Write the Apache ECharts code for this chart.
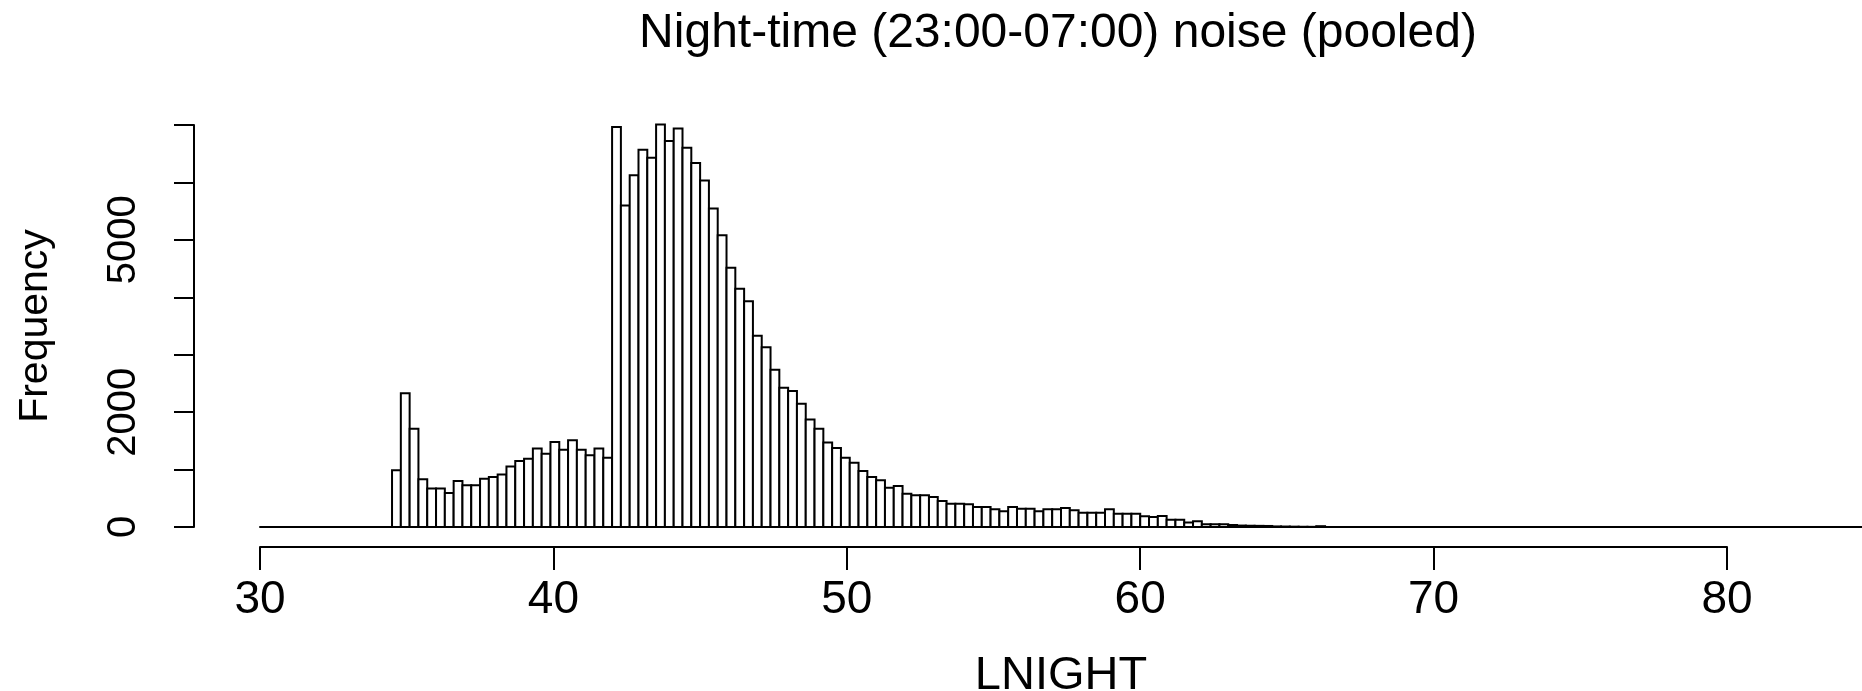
<!DOCTYPE html>
<html>
<head>
<meta charset="utf-8">
<title>Night-time noise histogram</title>
<script src="https://cdn.jsdelivr.net/npm/echarts@6/dist/echarts.min.js"></script>
<style>
  html, body { margin: 0; padding: 0; background: #fff; }
  #main { width: 1862px; height: 691px; }
</style>
</head>
<body>
<div id="main"></div>
<script>
// histogram bins: width 0.3 starting at 34.5 (LNIGHT, dB)
var binStart = 34.5;
var binWidth = 0.3;
var counts = [
  990, 2330, 1710, 830, 670, 670, 590, 800, 725, 725,
  840, 870, 915, 1055, 1150, 1190, 1365, 1275, 1480, 1345,
  1510, 1345, 1250, 1365, 1205, 6965, 5600, 6125, 6570, 6430,
  7010, 6720, 6940, 6605, 6340, 6035, 5545, 5080, 4515, 4150,
  3930, 3330, 3130, 2740, 2425, 2370, 2145, 1870, 1710, 1470,
  1375, 1205, 1120, 975, 870, 813, 685, 712, 580, 551,
  551, 522, 453, 406, 406, 395, 348, 348, 308, 273,
  348, 319, 319, 273, 308, 308, 331, 290, 250, 250,
  250, 308, 232, 232, 232, 186, 174, 192, 128, 128,
  80, 100, 50, 48, 46, 35, 25, 22, 20, 18,
  10, 8, 6, 4, 3, 14
];
// R drops the overlapping labels, only these survive
var yTickLabels = [0, 2000, 5000];
var xTicks = [30, 40, 50, 60, 70, 80];

var fontFam = '"Liberation Sans", Arial, sans-serif';

var histData = counts.map(function (n, i) {
  var x0 = +(binStart + i * binWidth).toFixed(2);
  return [x0, +(x0 + binWidth).toFixed(2), n];
});

var chart = echarts.init(document.getElementById('main'));

var option = {
  animation: false,
  backgroundColor: '#fff',
  title: {
    text: 'Night-time (23:00-07:00) noise (pooled)',
    left: 1053,
    top: 5,
    textAlign: 'center',
    textStyle: { fontFamily: fontFam, fontSize: 48, fontWeight: 'normal', color: '#000' }
  },
  grid: [
    // bars, zero line runs out to the right edge
    { left: 260, right: 0, top: 125, bottom: 164, containLabel: false, outerBoundsMode: 'none' },
    // the R x axis, 30..80 only
    { left: 260, width: 1467, top: 125, bottom: 164, containLabel: false, outerBoundsMode: 'none' }
  ],
  xAxis: [
    {
      type: 'value', gridIndex: 0,
      min: 30, max: 84.6,
      axisLine: { show: true, lineStyle: { color: '#000', width: 2 } },
      axisTick: { show: false },
      axisLabel: { show: false },
      splitLine: { show: false },
      // xlab sits in the middle of the whole plot region
      name: 'LNIGHT',
      nameLocation: 'middle',
      nameGap: 126,
      nameTextStyle: { fontFamily: fontFam, fontSize: 47, color: '#000' }
    },
    {
      type: 'value', gridIndex: 1,
      min: xTicks[0], max: xTicks[xTicks.length - 1], interval: 10,
      offset: 20,
      axisLine: { show: true, onZero: false, lineStyle: { color: '#000', width: 2 } },
      axisTick: { show: true, length: 23, lineStyle: { color: '#000', width: 2 } },
      axisLabel: { margin: 30, fontFamily: fontFam, fontSize: 46, color: '#000' },
      splitLine: { show: false }
    }
  ],
  yAxis: [
    {
      type: 'value', gridIndex: 0,
      min: 0, max: 7000, interval: 1000,
      offset: 66,
      axisLine: { show: true, lineStyle: { color: '#000', width: 2 } },
      axisTick: { show: true, length: 20, lineStyle: { color: '#000', width: 2 } },
      axisLabel: {
        rotate: 90,
        margin: 50,
        fontFamily: fontFam, fontSize: 40, color: '#000',
        formatter: function (v) {
          return yTickLabels.indexOf(v) >= 0 ? String(v) : '';
        }
      },
      splitLine: { show: false },
      name: 'Frequency',
      nameLocation: 'middle',
      nameRotate: 90,
      nameGap: 138,
      nameTextStyle: { fontFamily: fontFam, fontSize: 41, color: '#000' }
    },
    {
      type: 'value', gridIndex: 1, show: false, min: 0, max: 1
    }
  ],
  series: [
    {
      type: 'custom',
      xAxisIndex: 0,
      yAxisIndex: 0,
      clip: false,
      encode: { x: [0, 1], y: 2 },
      data: histData,
      renderItem: function (params, api) {
        var p0 = api.coord([api.value(0), api.value(2)]);
        var p1 = api.coord([api.value(1), 0]);
        return {
          type: 'rect',
          shape: { x: p0[0], y: p0[1], width: p1[0] - p0[0], height: p1[1] - p0[1] },
          style: { fill: '#fff', stroke: '#000', lineWidth: 2 }
        };
      }
    }
  ]
};

chart.setOption(option);
</script>
</body>
</html>
